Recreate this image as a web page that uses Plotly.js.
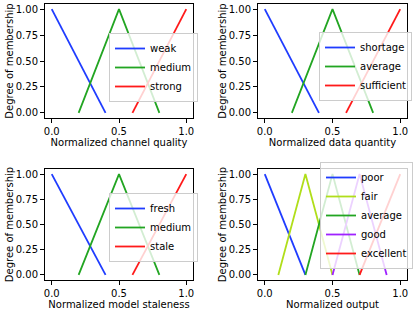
<!DOCTYPE html>
<html>
<head>
<meta charset="utf-8">
<script src="https://cdn.plot.ly/plotly-3.0.1.min.js"></script>
<style>html,body{margin:0;padding:0;background:#fff}#chart{width:416px;height:310px}</style>
</head>
<body>
<div id="chart"></div>
<script>
// Shared three-set membership functions (panels 1-3)
const lowX = [0, 0.4], lowY = [1, 0];
const midX = [0.2, 0.5, 0.8], midY = [0, 1, 0];
const highX = [0.6, 1.0], highY = [0, 1];
// Five-set output membership functions (panel 4)
const poorX = [0, 0.3], poorY = [1, 0];
const fairX = [0.1, 0.3, 0.5], fairY = [0, 1, 0];
const averageX = [0.3, 0.5, 0.7], averageY = [0, 1, 0];
const goodX = [0.5, 0.7, 0.9], goodY = [0, 1, 0];
const excellentX = [0.7, 1.0], excellentY = [0, 1];

const channelLabels = ['weak', 'medium', 'strong'];
const dataLabels = ['shortage', 'average', 'sufficient'];
const stalenessLabels = ['fresh', 'medium', 'stale'];
const outputLabels = ['poor', 'fair', 'average', 'good', 'excellent'];
const xTitles = ['Normalized channel quality', 'Normalized data quantity', 'Normalized model staleness', 'Normalized output'];
const yTitle = 'Degree of membership';
const xTickVals = [0, 0.5, 1.0], xTickText = ['0.0', '0.5', '1.0'];
const yTickVals = [0, 0.25, 0.5, 0.75, 1.0], yTickText = ['0.00', '0.25', '0.50', '0.75', '1.00'];

const BLUE = '#1f3cff', GREEN = '#22a522', RED = '#ff1a1a', LIME = '#b0de1a', PURPLE = '#9f22ff';
const FONT = 'DejaVu Sans, sans-serif';

function tr(x, y, name, color, ax, leg) {
  return {x: x, y: y, name: name, type: 'scatter', mode: 'lines',
    line: {color: color, width: 1.8}, xaxis: 'x' + ax, yaxis: 'y' + ax, legend: leg};
}
const traces = [];
const three = [[channelLabels, '', 'legend'], [dataLabels, '2', 'legend2'], [stalenessLabels, '3', 'legend3']];
three.forEach(([labels, ax, leg]) => {
  traces.push(tr(lowX, lowY, labels[0], BLUE, ax, leg));
  traces.push(tr(midX, midY, labels[1], GREEN, ax, leg));
  traces.push(tr(highX, highY, labels[2], RED, ax, leg));
});
traces.push(tr(poorX, poorY, outputLabels[0], BLUE, '4', 'legend4'));
traces.push(tr(fairX, fairY, outputLabels[1], LIME, '4', 'legend4'));
traces.push(tr(averageX, averageY, outputLabels[2], GREEN, '4', 'legend4'));
traces.push(tr(goodX, goodY, outputLabels[3], PURPLE, '4', 'legend4'));
traces.push(tr(excellentX, excellentY, outputLabels[4], RED, '4', 'legend4'));

const W = 416, H = 310;
const boxes = [ // [left, right, top, bottom] in px
  [45, 193, 4, 118], [258, 407, 4, 118], [45, 193, 169, 280], [258, 407, 169, 280]
];
const layout = {
  width: W, height: H, margin: {l: 0, r: 0, t: 0, b: 0},
  paper_bgcolor: '#fff', plot_bgcolor: '#fff',
  font: {family: FONT, size: 10, color: '#000'},
  showlegend: true
};
const axCommon = {
  showgrid: false, zeroline: false, showline: true, mirror: true, linecolor: '#000', linewidth: 1,
  ticks: 'outside', ticklen: 4, tickwidth: 1, tickcolor: '#000', tickfont: {family: FONT, size: 10, color: '#000'},
  automargin: false, fixedrange: true
};
boxes.forEach((b, i) => {
  const s = i === 0 ? '' : String(i + 1);
  layout['xaxis' + s] = Object.assign({}, axCommon, {
    domain: [b[0] / W, b[1] / W], range: [-0.05, 1.05], anchor: 'y' + s,
    tickvals: xTickVals, ticktext: xTickText,
    title: {text: xTitles[i], font: {family: FONT, size: 10, color: '#000'}, standoff: 1}
  });
  layout['yaxis' + s] = Object.assign({}, axCommon, {
    domain: [1 - b[3] / H, 1 - b[2] / H], range: [-0.05, 1.05], anchor: 'x' + s,
    tickvals: yTickVals, ticktext: yTickText,
    title: {text: yTitle, font: {family: FONT, size: 10, color: '#000'}, standoff: 0}
  });
});
const legPos = [[109, 33], [319, 32], [109, 193], [320, 162]];
legPos.forEach((p, i) => {
  const k = i === 0 ? 'legend' : 'legend' + (i + 1);
  layout[k] = {x: p[0] / W, y: 1 - p[1] / H, xanchor: 'left', yanchor: 'top',
    bgcolor: 'rgba(255,255,255,0.8)', bordercolor: '#cccccc', borderwidth: 1,
    font: {family: FONT, size: 10, color: '#000'}, tracegroupgap: 0, itemwidth: 30};
});
Plotly.newPlot('chart', traces, layout, {staticPlot: true, displayModeBar: false});
</script>
</body>
</html>
